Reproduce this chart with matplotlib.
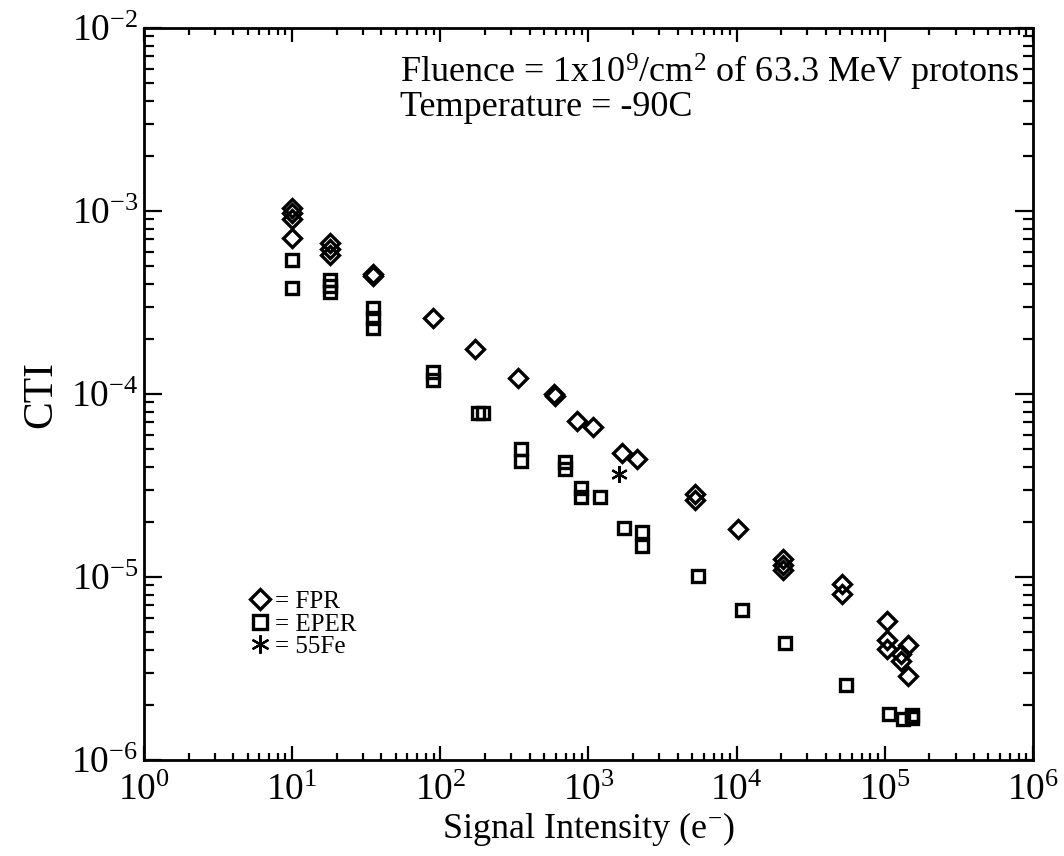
import matplotlib
matplotlib.use("Agg")
import matplotlib.pyplot as plt
from matplotlib.ticker import LogLocator, NullFormatter

plt.rcParams['font.family'] = ['Liberation Serif', 'DejaVu Serif']
plt.rcParams['mathtext.fontset'] = 'custom'
plt.rcParams['mathtext.rm'] = 'Liberation Serif'
plt.rcParams['mathtext.it'] = 'Liberation Serif:italic'

# FPR (diamonds)
fpr_x = [10, 10, 10, 10, 18, 18, 18, 35, 35, 89, 171, 334, 585, 590, 836, 1071,
         1680, 2120, 5220, 5220, 10190, 20500, 20500, 20500, 51300, 51300,
         103000, 103000, 103000, 143000, 128000, 128000, 143000]
fpr_y = [1.04e-3, 9.75e-4, 9.0e-4, 7.1e-4, 6.7e-4, 6.2e-4, 5.75e-4, 4.5e-4, 4.4e-4,
         2.6e-4, 1.76e-4, 1.22e-4, 1.0e-4, 0.97e-4, 7.1e-5, 6.6e-5, 4.77e-5, 4.42e-5,
         2.85e-5, 2.65e-5, 1.83e-5, 1.25e-5, 1.16e-5, 1.09e-5, 9.2e-6, 8.1e-6,
         5.75e-6, 4.5e-6, 4.05e-6, 4.25e-6, 3.8e-6, 3.48e-6, 2.88e-6]

# EPER (squares)
eper_x = [10, 10, 18, 18, 18, 35, 35, 35, 89, 89, 180, 195, 350, 350, 693, 693,
          889, 889, 1194, 1733, 2291, 2291, 5470, 10840, 21100, 54600,
          106000, 132000, 152000, 152000]
eper_y = [5.4e-4, 3.8e-4, 4.2e-4, 3.9e-4, 3.6e-4, 2.95e-4, 2.6e-4, 2.3e-4, 1.32e-4,
          1.2e-4, 7.9e-5, 7.9e-5, 5.0e-5, 4.3e-5, 4.25e-5, 3.9e-5, 3.05e-5, 2.75e-5,
          2.75e-5, 1.85e-5, 1.76e-5, 1.47e-5, 1.01e-5, 6.6e-6, 4.36e-6, 2.57e-6,
          1.78e-6, 1.67e-6, 1.77e-6, 1.7e-6]

# 55Fe (asterisk)
fe_x = [1600]
fe_y = [3.66e-5]

fig = plt.figure(figsize=(10.64, 8.56), dpi=100)
ax = fig.add_axes([0.1353, 0.1121, 0.8356, 0.8552])

ax.plot(fpr_x, fpr_y, linestyle='none', marker='D', markersize=9.5,
        markerfacecolor='none', markeredgecolor='black', markeredgewidth=2.4, label='= FPR')
ax.plot(eper_x, eper_y, linestyle='none', marker='s', markersize=9,
        markerfacecolor='none', markeredgecolor='black', markeredgewidth=2.4, label='= EPER')
ax.plot(fe_x, fe_y, linestyle='none', marker=(6, 2, 0), markersize=12,
        color='black', markeredgewidth=1.6, label='= 55Fe')

ax.set_xscale('log')
ax.set_yscale('log')
ax.set_xlim(1, 1e6)
ax.set_ylim(1e-6, 1e-2)

ax.xaxis.set_major_locator(LogLocator(base=10, numticks=10))
ax.xaxis.set_minor_locator(LogLocator(base=10, subs=range(2, 10), numticks=20))
ax.yaxis.set_major_locator(LogLocator(base=10, numticks=10))
ax.yaxis.set_minor_locator(LogLocator(base=10, subs=range(2, 10), numticks=20))
ax.xaxis.set_minor_formatter(NullFormatter())
ax.yaxis.set_minor_formatter(NullFormatter())

ax.tick_params(which='both', direction='in', top=True, right=True, labelsize=27, width=1.6)
ax.tick_params(axis='y', which='major', length=13, pad=4)
ax.tick_params(axis='y', which='minor', length=7)
ax.tick_params(axis='x', which='major', length=10, pad=10)
ax.tick_params(axis='x', which='minor', length=5)
for s in ax.spines.values():
    s.set_linewidth(2)

ax.set_xlabel('Signal Intensity (e$^{-}$)', fontsize=26, labelpad=1)
ax.set_ylabel('CTI', fontsize=30, labelpad=8)

ax.text(0.288, 0.925, 'Fluence = 1x10$^{9}$/cm$^{2}$ of 63.3 MeV protons',
        transform=ax.transAxes, fontsize=26, ha='left', va='baseline')
ax.text(0.288, 0.880, 'Temperature = -90C',
        transform=ax.transAxes, fontsize=26, ha='left', va='baseline')

ax.legend(loc='lower left', bbox_to_anchor=(0.105, 0.122), frameon=False, fontsize=18,
          handlelength=0.8, handletextpad=0.2, labelspacing=0.0, borderpad=0,
          markerscale=1.1)

fig.savefig('out.png', dpi=100)
